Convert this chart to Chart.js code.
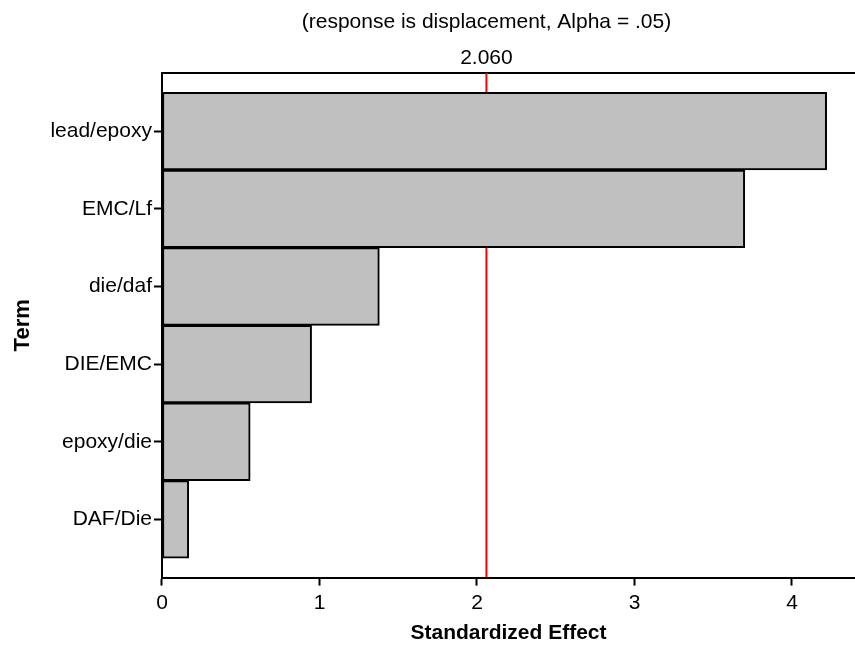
<!DOCTYPE html>
<html>
<head>
<meta charset="utf-8">
<script src="https://cdn.jsdelivr.net/npm/chart.js@4"></script>
<style>
  html, body { margin: 0; padding: 0; background: #fff; overflow: hidden; }
  #wrap { width: 855px; height: 646px; }
</style>
</head>
<body>
<div id="wrap"><canvas id="pareto"></canvas></div>
<script>
// === DATA ===
const terms = ["lead/epoxy", "EMC/Lf", "die/daf", "DIE/EMC", "epoxy/die", "DAF/Die"];
const effects = [4.22, 3.70, 1.38, 0.95, 0.56, 0.17];
const xTicks = [0, 1, 2, 3, 4];
const critical = 2.060;
const subtitle = "(response is displacement, Alpha = .05)";

const FONT = "'Liberation Sans', Arial, sans-serif";
const yMin = 0.25, yMax = terms.length + 0.75;

// bars sit at y = 1..n on a linear axis so we can leave room above and below
const barData = terms.map((t, i) => ({ x: effects[i], y: i + 1 }));

// === TEXT ABOVE THE FRAME ===
const topText = {
  id: 'topText',
  afterDraw(chart) {
    const ctx = chart.ctx;
    const x = chart.scales.x.getPixelForValue(critical);
    ctx.save();
    ctx.fillStyle = '#000';
    ctx.textAlign = 'center';
    ctx.textBaseline = 'middle';
    ctx.font = "21px " + FONT;
    ctx.fillText(subtitle, x, 22);
    ctx.fillText(critical.toFixed(3), x, 58);
    ctx.restore();
  }
};

new Chart(document.getElementById("pareto"), {
  type: 'bar',
  data: {
    datasets: [{
      label: 'Effect',
      data: barData,
      backgroundColor: '#c0c0c0',
      borderColor: '#000',
      borderWidth: 2,
      borderSkipped: false,
      barPercentage: 1,
      categoryPercentage: 1
    }, {
      type: 'line',
      label: 'critical',
      indexAxis: 'y',
      data: [{ x: critical, y: yMin }, { x: critical, y: yMax }],
      borderColor: '#ff0000',
      borderWidth: 2,
      pointRadius: 0
    }]
  },
  options: {
    indexAxis: 'y',
    responsive: true,
    maintainAspectRatio: false,
    animation: false,
    layout: { padding: { top: 65, left: 10, right: 0, bottom: 0 } },
    plugins: {
      legend: { display: false },
      tooltip: { enabled: false }
    },
    scales: {
      x: {
        type: 'linear',
        min: 0,
        max: 4.4,
        afterBuildTicks: axis => { axis.ticks = xTicks.map(v => ({ value: v })); },
        grid: { drawOnChartArea: false, tickLength: 8, tickColor: '#000', tickWidth: 2 },
        border: { color: '#000', width: 2 },
        ticks: { color: '#000', font: { family: FONT, size: 21 }, padding: 5, maxRotation: 0 },
        title: { display: true, text: 'Standardized Effect', color: '#000',
                 font: { family: FONT, size: 21, weight: 'bold' }, padding: { top: 0, bottom: 0 } }
      },
      x2: {
        type: 'linear',
        position: 'top',
        min: 0,
        max: 4.4,
        grid: { display: false },
        border: { color: '#000', width: 2 },
        ticks: { display: false }
      },
      y: {
        type: 'linear',
        reverse: true,
        offset: false,
        min: yMin,
        max: yMax,
        afterBuildTicks: axis => { axis.ticks = terms.map((t, i) => ({ value: i + 1 })); },
        grid: { offset: false, drawOnChartArea: false, tickLength: 8, tickColor: '#000', tickWidth: 2 },
        border: { color: '#000', width: 2 },
        ticks: {
          color: '#000',
          font: { family: FONT, size: 21 },
          padding: 2,
          callback: v => terms[v - 1]
        },
        title: { display: true, text: 'Term', color: '#000',
                 font: { family: FONT, size: 22, weight: 'bold' }, padding: { top: 0, bottom: 12 } }
      }
    }
  },
  plugins: [topText]
});
</script>
</body>
</html>
